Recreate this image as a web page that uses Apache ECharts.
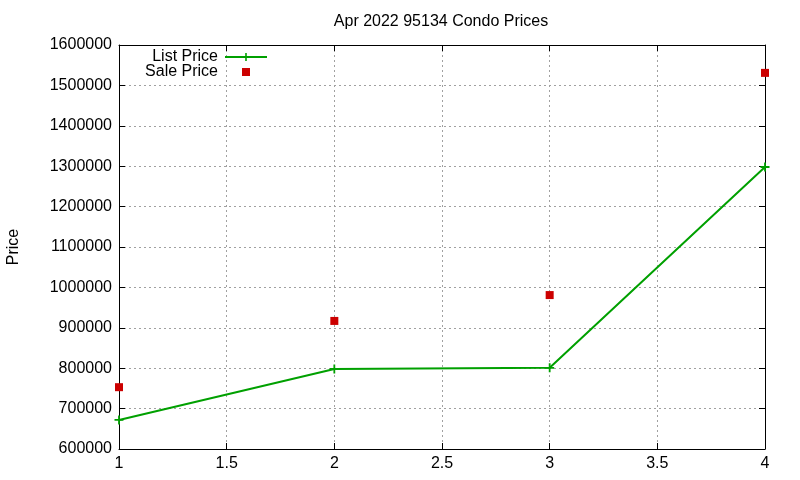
<!DOCTYPE html>
<html><head><meta charset="utf-8">
<script src="https://cdn.jsdelivr.net/npm/echarts@6/dist/echarts.min.js"></script>
<style>html,body{margin:0;padding:0;background:#fff}#c{width:800px;height:480px}</style>
</head><body><div id="c"></div>
<script>
const xValues = [1, 2, 3, 4];
const listPrice = [672000, 798000, 801000, 1298000];
const salePrice = [753000, 917000, 981000, 1531000];
const titleText = 'Apr 2022 95134 Condo Prices';
const yName = 'Price';

const FONT = 'Liberation Sans, Arial, sans-serif';
const FS = 16;
const chart = echarts.init(document.getElementById('c'), null, {renderer: 'canvas'});
const grid = {left: 119, right: 35, top: 45, bottom: 31, containLabel: false, outerBoundsMode: 'none'};
const gridLine = {show: true, lineStyle: {color: '#a0a0a0', type: [2, 3], width: 1}};
const plusPath = 'path://M4,0H6V4H10V6H6V10H4V6H0V4H4Z';
chart.setOption({
  animation: false,
  backgroundColor: '#fff',
  title: {text: titleText, left: 436, top: 9, textAlign: 'center',
    textStyle: {fontFamily: FONT, fontSize: FS, fontWeight: 'normal', color: '#000'}},
  legend: [
    {data: [{name: 'List Price'}], right: 532, top: 49, padding: 0, align: 'right', itemWidth: 42, itemHeight: 10, itemGap: 0,
      textStyle: {fontFamily: FONT, fontSize: FS, color: '#000', padding: [0, 2, 0, 0]}},
    {data: [{name: 'Sale Price', icon: 'rect'}], right: 550, top: 64, padding: 0, align: 'right', itemWidth: 8, itemHeight: 8,
      textStyle: {fontFamily: FONT, fontSize: FS, color: '#000', padding: [0, 19, 0, 0]}}
  ],
  grid: grid,
  xAxis: [
    {type: 'value', min: 1, max: 4, interval: 0.5, position: 'bottom',
      axisLine: {show: true, onZero: false, lineStyle: {color: '#000', width: 1}},
      axisTick: {show: true, inside: true, length: 6, lineStyle: {color: '#000'}},
      axisLabel: {fontFamily: FONT, fontSize: FS, color: '#000', margin: 7, formatter: v => String(v)},
      splitLine: gridLine},
    {type: 'value', min: 1, max: 4, interval: 0.5, position: 'top',
      axisLine: {show: true, onZero: false, lineStyle: {color: '#000', width: 1}},
      axisTick: {show: true, inside: true, length: 6, lineStyle: {color: '#000'}},
      axisLabel: {show: false}, splitLine: {show: false}}
  ],
  yAxis: [
    {type: 'value', min: 600000, max: 1600000, interval: 100000, position: 'left',
      name: yName, nameLocation: 'middle', nameGap: 97, nameRotate: 90,
      nameTextStyle: {fontFamily: FONT, fontSize: FS, color: '#000'},
      axisLine: {show: true, onZero: false, lineStyle: {color: '#000', width: 1}},
      axisTick: {show: true, inside: true, length: 6, lineStyle: {color: '#000'}},
      axisLabel: {fontFamily: FONT, fontSize: FS, color: '#000', margin: 7, formatter: v => String(v)},
      splitLine: gridLine},
    {type: 'value', min: 600000, max: 1600000, interval: 100000, position: 'right',
      axisLine: {show: true, onZero: false, lineStyle: {color: '#000', width: 1}},
      axisTick: {show: true, inside: true, length: 6, lineStyle: {color: '#000'}},
      axisLabel: {show: false}, splitLine: {show: false}}
  ],
  series: [
    {name: 'List Price', type: 'line', xAxisIndex: 0, yAxisIndex: 0,
      data: xValues.map((x, i) => [x, listPrice[i]]),
      color: '#00a000', lineStyle: {color: '#00a000', width: 2},
      symbol: plusPath, symbolSize: 9, showSymbol: true,
      itemStyle: {color: '#00a000'}},
    {name: 'Sale Price', type: 'scatter', xAxisIndex: 0, yAxisIndex: 0,
      data: xValues.map((x, i) => [x, salePrice[i]]),
      symbol: 'rect', symbolSize: 8, itemStyle: {color: '#cc0000', opacity: 1}}
  ]
});
</script></body></html>
